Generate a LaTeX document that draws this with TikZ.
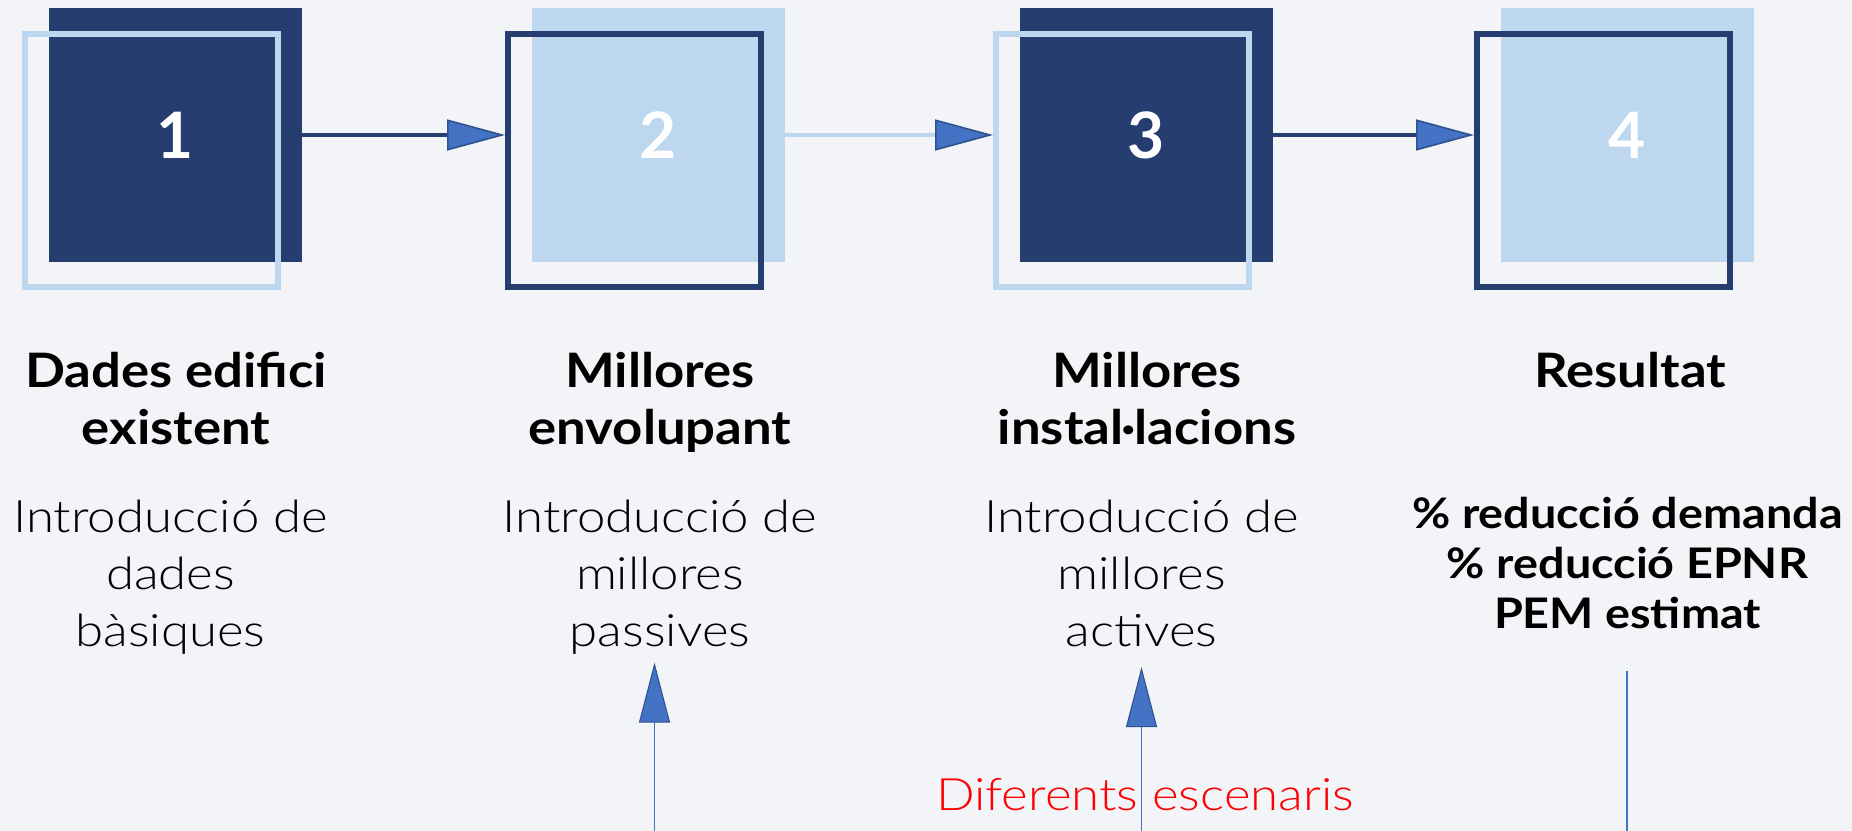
\documentclass[tikz,border=0pt]{standalone}
\usepackage{fontspec}
\setmainfont{Lato}[FakeStretch=1.11]
\newfontfamily\lightfont{Lato Light}[FakeStretch=1.14]
\newfontfamily\digitfont{Lato}
\usetikzlibrary{arrows.meta, positioning}
\definecolor{bgcol}{HTML}{F2F4F8}
\definecolor{navy}{HTML}{263D6F}
\definecolor{lightblue}{HTML}{BDD7EE}
\definecolor{tipblue}{HTML}{4472C4}
\definecolor{tipedge}{HTML}{2F528F}
\newcommand{\numfont}{\digitfont\fontsize{48}{58}\selectfont\bfseries}
\newcommand{\titlefont}{\fontsize{35.6}{42.75}\selectfont\bfseries}
\newcommand{\descfont}{\lightfont\fontsize{33.5}{42.75}\selectfont}
\newcommand{\resfont}{\fontsize{31.6}{37.5}\selectfont\bfseries}

\begin{document}
\begin{tikzpicture}[x=0.75pt, y=-0.75pt,
  fillbox/.style={minimum width=189.75pt, minimum height=189.75pt, inner sep=0pt, text=white, font=\numfont},
  framebox/.style={draw, line width=4.5pt, minimum width=189.75pt, minimum height=189.75pt, inner sep=0pt},
  title/.style={anchor=base, align=center, font=\titlefont},
  desc/.style={anchor=base, align=center, font=\descfont},
  flow/.style={line width=3pt, -{Triangle[length=43.5pt, width=23.25pt, fill=tipblue, color=tipedge, line width=1.2pt]}},
  rise/.style={draw=tipblue, line width=1.1pt, shorten >=3pt, -{Triangle[length=45pt, width=23.25pt, fill=tipblue, color=tipedge, line width=0.8pt]}}]

\path[use as bounding box, fill=bgcol] (0,0) rectangle (1852,831);

% steps
\node[fillbox, fill=navy] (n1) at (175.5,135) {1};
\node[framebox, draw=lightblue] (o1) at ([shift={(-24,25.5)}]n1.center) {};

\node[fillbox, fill=lightblue] (n2) at (658.5,135) {2};
\node[framebox, draw=navy] (o2) at ([shift={(-24,25.5)}]n2.center) {};

\node[fillbox, fill=navy] (n3) at (1146.5,135) {3};
\node[framebox, draw=lightblue] (o3) at ([shift={(-24,25.5)}]n3.center) {};

\node[fillbox, fill=lightblue] (n4) at (1627.5,135) {4};
\node[framebox, draw=navy] (o4) at ([shift={(-24,25.5)}]n4.center) {};

\draw[flow, navy] (n1.east) -- (n1.east -| o2.west);
\draw[flow, lightblue] (n2.east) -- (n2.east -| o3.west);
\draw[flow, navy] (n3.east) -- (n3.east -| o4.west);

% texts
\node[title] (t1) at (176,444) {Dades edifici\\existent};
\node[title] (t2) at (660,444) {Millores\\envolupant};
\node[title] (t3) at (1147,444) {Millores\\instal·lacions};
\node[title] (t4) at (1630,387) {Resultat};

\node[desc] (d1) at (170.5,646) {Introducció de\\dades\\bàsiques};
\node[desc] (d2) at (660,646) {Introducció de\\millores\\passives};
\node[desc] (d3) at (1141.5,646) {Introducció de\\millores\\actives};
\node[title, font=\resfont] (r4) at (1627.5,628) {\% reducció demanda\\\% reducció EPNR\\PEM estimat};

\node[desc, text=red] (sc) at (1145,810) {Diferents escenaris};

% scenarios
\coordinate (b2) at (654.5,831);
\coordinate (b3) at (1141.5,831);
\coordinate (b4) at (1627,831);
\draw[rise] (b2) -- (b2 |- d2.south);
\draw[rise, shorten >=12pt] (b3) -- (b3 |- d3.south);
\draw[draw=tipblue, line width=1.1pt, shorten >=28.5pt] (b4) -- (b4 |- r4.south);

\end{tikzpicture}
\end{document}
